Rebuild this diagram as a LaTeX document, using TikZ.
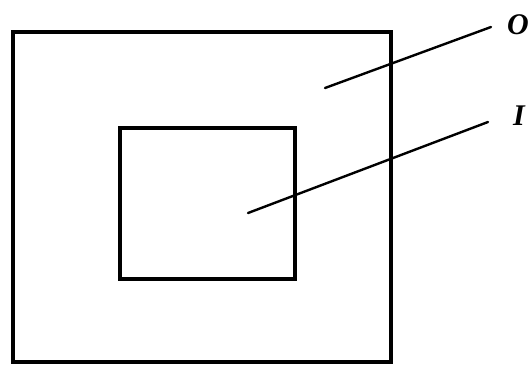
\documentclass[tikz,border=0pt]{standalone}
\usepackage{fontspec}
\setmainfont{Liberation Serif}
\begin{document}
\begin{tikzpicture}[x=1pt,y=-1pt,
  box/.style={draw=black,line width=4pt},
  leader/.style={draw=black,line width=2.4pt,line cap=round},
  lbl/.style={font=\fontsize{30}{30}\selectfont\itshape\bfseries,inner sep=0pt,anchor=west}]
\useasboundingbox (0,0) rectangle (532,365);
\draw[box] (13,32) rectangle (391,362);
\draw[box] (120,128) rectangle (295,279);
\node[lbl] (O) at (507,25) {O};
\node[lbl] (I) at (513,116) {I};
\coordinate (o1) at (325,88);
\coordinate (o2) at (491,27);
\coordinate (i1) at (248,213);
\coordinate (i2) at (488,122);
\draw[leader] (o1) -- (o2);
\draw[leader] (i1) -- (i2);
\end{tikzpicture}
\end{document}
